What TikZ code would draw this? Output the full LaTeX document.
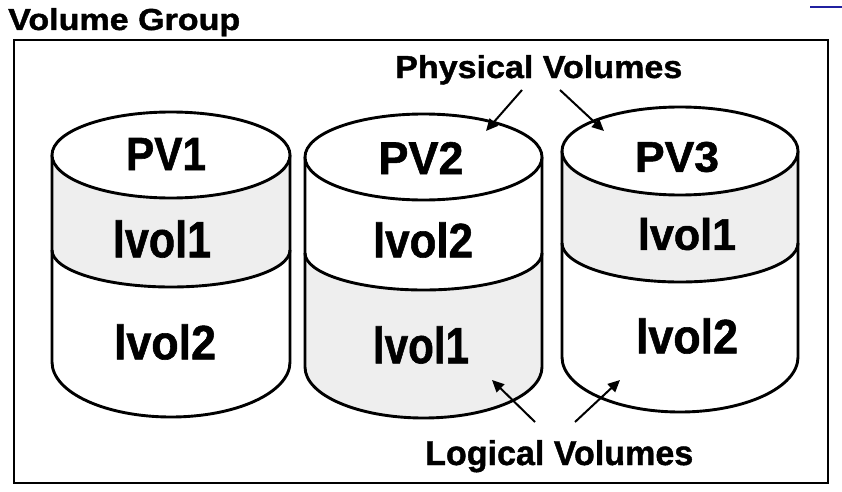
\documentclass[tikz,border=0pt]{standalone}
\usepackage{fontspec}
\setmainfont{Liberation Sans}
\newfontfamily\heavyfont{Liberation Sans Bold}[FakeBold=1.2]
\usepackage{graphicx}
\usetikzlibrary{arrows.meta}
\definecolor{bandgrey}{HTML}{EEEEEE}
\definecolor{markblue}{HTML}{2020A0}
\tikzset{
  cylline/.style={line width=2.9pt, line join=round},
  frameline/.style={line width=1.8pt},
  pointer/.style={line width=2pt, -{Triangle[length=12pt,width=11pt]}},
  lbl/.style={inner sep=0pt, anchor=center, font=\heavyfont},
  title/.style={inner sep=0pt, anchor=base west, font=\heavyfont}
}
\newcommand\cylbot{white}
\newcommand\drawcyl[9]{%
  \pgfmathsetmacro\cxl{#1-#2}\pgfmathsetmacro\cxr{#1+#2}%
  \fill[#9] (\cxl,#3) -- (\cxl,#5) arc[start angle=180,end angle=360,x radius=#2,y radius=#6] -- (\cxr,#3) -- cycle;
  \fill[\cylbot] (\cxl,#5) arc[start angle=180,end angle=360,x radius=#2,y radius=#6] -- (\cxr,#7) arc[start angle=0,end angle=-180,x radius=#2,y radius=#8] -- cycle;
  \draw[cylline] (\cxl,#3) -- (\cxl,#7) arc[start angle=180,end angle=360,x radius=#2,y radius=#8] -- (\cxr,#3);
  \draw[cylline] (\cxl,#5) arc[start angle=180,end angle=360,x radius=#2,y radius=#6];
  \draw[cylline,fill=white] (#1,#3) ellipse[x radius=#2,y radius=#4];
}
\begin{document}
\begin{tikzpicture}[x=1pt,y=1pt]
\useasboundingbox (0,0) rectangle (842,491);
% outer frame
\draw[frameline] (14,451) rectangle (828,8);
\draw[markblue, line width=2pt] (810,484) -- (842,484);
\node[title] (vg) at (8,461) {\resizebox{232pt}{22pt}{Volume Group}};
% cylinders
\renewcommand\cylbot{white}
\drawcyl{171}{119}{336}{43}{241}{37}{129}{55}{bandgrey}
\renewcommand\cylbot{bandgrey}
\drawcyl{423.5}{118.5}{334}{43}{238}{37}{124}{51}{white}
\renewcommand\cylbot{white}
\drawcyl{680}{118}{340}{44}{248}{39}{134}{55}{bandgrey}
% labels
\node[lbl] (pv1) at (166,337) {\resizebox{80pt}{32pt}{PV1}};
\node[lbl] (c1a) at (162,252) {\resizebox{98pt}{37pt}{lvol1}};
\node[lbl] (c1b) at (165,149) {\resizebox{102pt}{35pt}{lvol2}};
\node[lbl] (pv2) at (421,333) {\resizebox{85pt}{32pt}{PV2}};
\node[lbl] (c2a) at (423,251) {\resizebox{100pt}{35pt}{lvol2}};
\node[lbl] (c2b) at (421,146) {\resizebox{96pt}{37pt}{lvol1}};
\node[lbl] (pv3) at (677,334) {\resizebox{84pt}{30pt}{PV3}};
\node[lbl] (c3a) at (687,257) {\resizebox{98pt}{32pt}{lvol1}};
\node[lbl] (c3b) at (687,155) {\resizebox{102pt}{35pt}{lvol2}};
% captions
\node[title] (phys) at (395,413) {\resizebox{287pt}{23pt}{Physical Volumes}};
\node[title] (logi) at (425,26) {\resizebox{268pt}{25pt}{Logical Volumes}};
% arrows
\coordinate (pa1) at (522,401); \coordinate (pt1) at (486,360);
\coordinate (pa2) at (560,401); \coordinate (pt2) at (604,360);
\coordinate (la1) at (535,69);  \coordinate (lt1) at (492,111);
\coordinate (la2) at (575,69);  \coordinate (lt2) at (620,111);
\draw[pointer] (pa1) -- (pt1);
\draw[pointer] (pa2) -- (pt2);
\draw[pointer] (la1) -- (lt1);
\draw[pointer] (la2) -- (lt2);
\end{tikzpicture}
\end{document}
